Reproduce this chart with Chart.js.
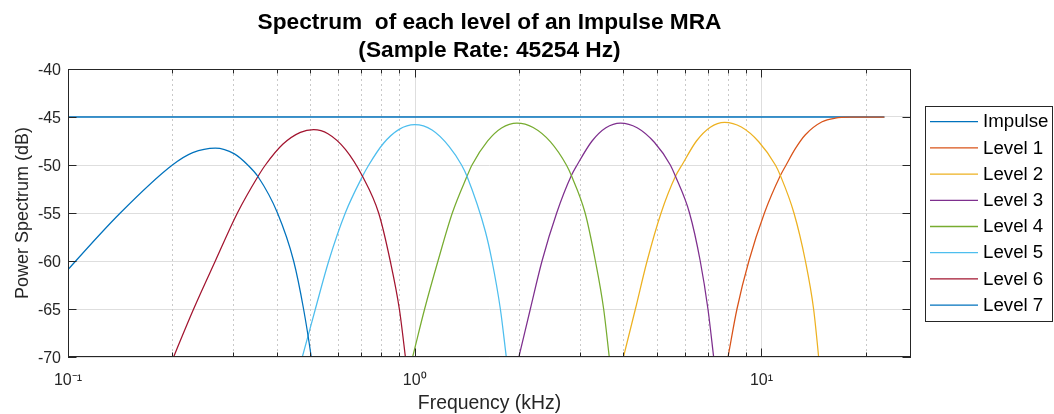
<!DOCTYPE html>
<html>
<head>
<meta charset="utf-8">
<script src="https://cdn.jsdelivr.net/npm/chart.js@4.4.1/dist/chart.umd.min.js"></script>
<style>
html,body{margin:0;padding:0;background:#fff;overflow:hidden}
canvas{display:block}
</style>
</head>
<body>
<canvas id="c" width="1054" height="414" style="width:1054px;height:414px"></canvas>
<script>
// ---- data (frequency in kHz, power in dB) ----
const seriesLabels = ['Impulse','Level 1','Level 2','Level 3','Level 4','Level 5','Level 6','Level 7'];

const impulseFreq = [0.05, 22.627];
const impulseDb   = [-45, -45];

const level1Freq = [7.85, 8.01, 8.5, 9.2, 10.2, 11.34, 11.78, 12.55, 13.39, 14.96, 16.34, 18.25, 22.627];
const level1Db   = [-71.7, -70, -65, -60, -55, -51.1, -50, -48.25, -46.85, -45.5, -45.12, -45.02, -45.0];

const level2Freq = [3.93, 4.0, 4.33, 4.68, 5.135, 5.65, 5.9, 6.495, 7.12, 7.83, 8.75, 9.82, 10.97, 11.34, 12.41, 13.39, 14.14, 14.62, 14.85];
const level2Db   = [-71.1, -70, -65, -60, -55, -51.18, -50, -47.5, -46.06, -45.56, -46.05, -47.58, -50, -51.1, -55, -60, -65, -70, -72.7];

const level3Freq = [1.96, 1.997, 2.155, 2.329, 2.567, 2.83, 2.94, 3.247, 3.56, 3.92, 4.38, 4.917, 5.46, 5.65, 6.202, 6.66, 7.01, 7.28, 7.4];
const level3Db   = [-71.2, -70, -65, -60, -55, -51.1, -50, -47.5, -46.12, -45.63, -46.12, -47.66, -50, -51.18, -55, -60, -65, -70, -72.2];

const level4Freq = [0.97, 0.986, 1.068, 1.167, 1.2836, 1.415, 1.463, 1.6235, 1.78, 1.972, 2.196, 2.464, 2.738, 2.83, 3.101, 3.32, 3.507, 3.64, 3.7];
const level4Db   = [-71.0, -70, -65, -60, -55, -51.18, -50, -47.49, -46.14, -45.63, -46.09, -47.59, -50, -51.1, -55, -60, -65, -70, -72.2];

const level5Freq = [0.463, 0.474, 0.517, 0.565, 0.6306, 0.707, 0.737, 0.8119, 0.9016, 1.0, 1.122, 1.2574, 1.365, 1.415, 1.598, 1.671, 1.766, 1.837, 1.87];
const level5Db   = [-71.3, -70, -65, -60, -55, -51.18, -50, -47.76, -46.29, -45.8, -46.36, -48.08, -50, -51.18, -56.9, -60, -65, -70, -72.3];

const level6Freq = [0.19, 0.2016, 0.2303, 0.266, 0.308, 0.353, 0.371, 0.417, 0.468, 0.511, 0.562, 0.631, 0.707, 0.787, 0.85, 0.903, 0.94, 0.96];
const level6Db   = [-72.3, -70, -65, -60, -55, -51.2, -50, -47.82, -46.6, -46.32, -46.74, -48.37, -51.18, -55, -60, -65, -70, -72.8];

const level7Freq = [0.09, 0.1, 0.1415, 0.2, 0.229, 0.266, 0.302, 0.33, 0.353, 0.402, 0.4475, 0.478, 0.503, 0.52];
const level7Db   = [-62.8, -60.9, -55, -50, -48.71, -48.23, -48.84, -50, -51.2, -55, -60, -65, -70, -74];

// ---- axes ticks ----
const xTickValues = [0.1,0.2,0.3,0.4,0.5,0.6,0.7,0.8,0.9,1,2,3,4,5,6,7,8,9,10,20];
const xMajorValues = [0.1, 1, 10];
const xMajorLabels = ['10\u207B\u00B9', '10\u2070', '10\u00B9'];
const yTickValues = [-70, -65, -60, -55, -50, -45, -40];
const yTickLabels = ['-70', '-65', '-60', '-55', '-50', '-45', '-40'];

// ---- styling ----
const seriesColors = ['#0072BD','#D95319','#EDB120','#7E2F8E','#77AC30','#4DBEEE','#A2142F','#0072BD'];
const FONT = '"Liberation Sans", Arial, Helvetica, sans-serif';
const AX = '#262626';

const freqs = [impulseFreq, level1Freq, level2Freq, level3Freq, level4Freq, level5Freq, level6Freq, level7Freq];
const dbs   = [impulseDb, level1Db, level2Db, level3Db, level4Db, level5Db, level6Db, level7Db];

const isMajor = v => xMajorValues.some(m => Math.abs(m - v) < 1e-9);

const datasets = seriesLabels.map((lab, i) => ({
  label: lab,
  data: freqs[i].map((f, j) => ({x: f, y: dbs[i][j]})),
  borderColor: seriesColors[i],
  backgroundColor: seriesColors[i],
  borderWidth: i === 0 ? 1.4 : 1.25,
  pointRadius: 0,
  fill: false,
  cubicInterpolationMode: 'monotone',
  order: 10 - i
}));

const framePlugin = {
  id: 'frame',
  beforeDatasetsDraw(chart) {
    const {ctx, chartArea: a, scales: {x}} = chart;
    ctx.save();
    ctx.lineWidth = 1;
    xTickValues.forEach(v => {
      const px = Math.round(x.getPixelForValue(v)) + 0.5;
      if (px <= a.left + 1 || px >= a.right - 1) return;
      const maj = isMajor(v);
      ctx.strokeStyle = maj ? '#dedede' : '#c9c9c9';
      ctx.setLineDash(maj ? [] : [2, 3]);
      ctx.beginPath();
      ctx.moveTo(px, a.top);
      ctx.lineTo(px, a.bottom);
      ctx.stroke();
    });
    ctx.restore();
  },
  afterDatasetsDraw(chart) {
    const {ctx, chartArea: a, scales: {x, y}} = chart;
    ctx.save();
    ctx.strokeStyle = AX;
    ctx.lineWidth = 1;
    ctx.setLineDash([]);
    ctx.strokeRect(a.left + 0.5, a.top + 0.5, a.right - a.left - 1, a.bottom - a.top - 1);
    ctx.beginPath();
    yTickValues.forEach(v => {
      const py = Math.round(y.getPixelForValue(v)) + 0.5;
      ctx.moveTo(a.left, py); ctx.lineTo(a.left + 8.5, py);
      ctx.moveTo(a.right, py); ctx.lineTo(a.right - 8.5, py);
    });
    xTickValues.forEach(v => {
      const px = Math.round(x.getPixelForValue(v)) + 0.5;
      const len = isMajor(v) ? 8.5 : 4.5;
      ctx.moveTo(px, a.bottom); ctx.lineTo(px, a.bottom - len);
      ctx.moveTo(px, a.top); ctx.lineTo(px, a.top + len);
    });
    ctx.stroke();
    ctx.restore();
  },
  afterDraw(chart) {
    const {ctx} = chart;
    const bx = 925.5, by = 106.5, bw = 127, bh = 215;
    ctx.save();
    ctx.fillStyle = '#ffffff';
    ctx.fillRect(bx, by, bw, bh);
    ctx.strokeStyle = AX;
    ctx.lineWidth = 1;
    ctx.strokeRect(bx, by, bw, bh);
    chart.data.datasets.forEach((ds, i) => {
      const yy = 121.7 + i * 26.2;
      ctx.strokeStyle = ds.borderColor;
      ctx.lineWidth = 1.3;
      ctx.beginPath();
      ctx.moveTo(930, yy);
      ctx.lineTo(978, yy);
      ctx.stroke();
      ctx.fillStyle = '#000';
      ctx.font = '18.7px ' + FONT;
      ctx.textBaseline = 'middle';
      ctx.textAlign = 'left';
      ctx.fillText(ds.label, 983, yy + 0.5);
    });
    ctx.restore();
  }
};

new Chart(document.getElementById('c'), {
  type: 'line',
  data: {datasets},
  options: {
    responsive: false,
    animation: false,
    devicePixelRatio: 1,
    layout: {padding: {left: 0, right: 143, top: 0, bottom: 0}},
    plugins: {
      legend: {display: false},
      tooltip: {enabled: false},
      title: {
        display: true,
        fullSize: false,
        text: ['Spectrum  of each level of an Impulse MRA', '(Sample Rate: 45254 Hz)'],
        color: '#000',
        font: {family: FONT, size: 22.7, weight: 'bold', lineHeight: 28 / 22.7},
        padding: {top: 8.5, bottom: 4.5}
      }
    },
    scales: {
      x: {
        type: 'logarithmic',
        min: 0.1,
        max: 27,
        afterBuildTicks: s => { s.ticks = xTickValues.map(v => ({value: v})); },
        afterFit: s => { s.height = 57; },
        grid: {display: false},
        border: {display: false},
        ticks: {
          autoSkip: false, maxRotation: 0, minRotation: 0, padding: 6,
          color: AX, font: {family: FONT, size: 16},
          callback: v => { const k = xMajorValues.findIndex(m => Math.abs(m - v) < 1e-9); return k >= 0 ? xMajorLabels[k] : ''; }
        },
        title: {display: true, text: 'Frequency (kHz)', color: AX, font: {family: FONT, size: 19.4, lineHeight: 1.05}, padding: {top: 0, bottom: 0}}
      },
      y: {
        min: -70,
        max: -40,
        afterBuildTicks: s => { s.ticks = yTickValues.map(v => ({value: v})); },
        afterFit: s => { s.width = 68; },
        grid: {color: '#dedede', drawTicks: false},
        border: {display: false},
        ticks: {
          padding: 7, labelOffset: 2, color: AX, font: {family: FONT, size: 16},
          callback: (v) => { const k = yTickValues.indexOf(v); return k >= 0 ? yTickLabels[k] : ''; }
        },
        title: {display: true, text: 'Power Spectrum (dB)', color: AX, font: {family: FONT, size: 18, lineHeight: 1.2}, padding: {top: 12, bottom: 0}}
      }
    }
  },
  plugins: [framePlugin]
});
</script>
</body>
</html>
